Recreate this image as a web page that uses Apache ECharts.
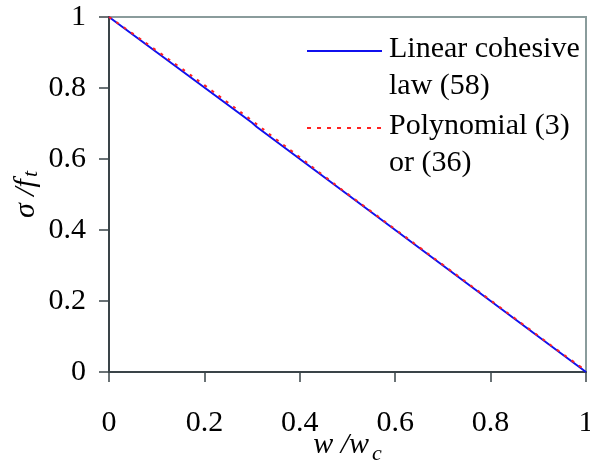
<!DOCTYPE html>
<html>
<head>
<meta charset="utf-8">
<script src="https://cdn.jsdelivr.net/npm/echarts@6/dist/echarts.min.js"></script>
<style>
  html, body { margin: 0; padding: 0; background: #fff; }
  #chart { width: 590px; height: 461px; }
</style>
</head>
<body>
<div id="chart"></div>
<script>
  // w/wc values
  const xLinear = [0, 0.3, 0.31, 1]
  const yLinear = [1, 0.702, 0.69, 0]

  const xPoly = [0, 0.05, 0.1, 0.15, 0.2, 0.25, 0.3, 0.35, 0.4, 0.45, 0.5, 0.55, 0.6, 0.65, 0.7, 0.75, 0.8, 0.85, 0.9, 0.95, 1]
  const yPoly = [1, 0.953, 0.905, 0.857, 0.808, 0.758, 0.708, 0.656, 0.605, 0.553, 0.502, 0.452, 0.402, 0.352, 0.302, 0.252, 0.202, 0.152, 0.102, 0.052, 0.004]

  const xTicks = ['0', '0.2', '0.4', '0.6', '0.8', '1']
  const yTicks = ['0', '0.2', '0.4', '0.6', '0.8', '1']

  const serif = '"Liberation Serif", "DejaVu Serif", serif'
  const chart = echarts.init(document.getElementById('chart'))

  const option = {
    animation: false,
    grid: {
      left: 109, right: 4, top: 17, bottom: 89,
      containLabel: false, outerBoundsMode: 'none',
      show: true, borderColor: '#8a9c9c', borderWidth: 2
    },
    xAxis: {
      type: 'value', min: 0, max: 1, interval: 0.2,
      name: '{i|w /w}{s|c}',
      nameLocation: 'middle', nameGap: 53, nameMoveOverlap: false,
      nameTextStyle: {
        rich: {
          i: { fontFamily: serif, fontStyle: 'italic', fontSize: 30, color: '#000' },
          s: { fontFamily: serif, fontStyle: 'italic', fontSize: 22, color: '#000', padding: [18, 0, 0, 3] }
        }
      },
      axisLine: { lineStyle: { color: '#3a4448', width: 2 } },
      axisTick: { inside: false, length: 10, lineStyle: { color: '#3a4448', width: 1.5 } },
      axisLabel: {
        fontFamily: serif, fontSize: 30, color: '#000', margin: 36,
        formatter: v => xTicks[Math.round(v / 0.2)]
      },
      splitLine: { show: false }
    },
    yAxis: {
      type: 'value', min: 0, max: 1, interval: 0.2,
      name: '{i|σ /f}{s|t}',
      nameLocation: 'middle', nameGap: 67, nameMoveOverlap: false,
      nameTextStyle: {
        rich: {
          i: { fontFamily: serif, fontStyle: 'italic', fontSize: 30, color: '#000' },
          s: { fontFamily: serif, fontStyle: 'italic', fontSize: 22, color: '#000', padding: [10, 0, 0, 2] }
        }
      },
      axisLine: { lineStyle: { color: '#3a4448', width: 2 } },
      axisTick: { inside: false, length: 10, lineStyle: { color: '#3a4448', width: 1.5 } },
      axisLabel: {
        fontFamily: serif, fontSize: 30, color: '#000', margin: 23,
        formatter: v => yTicks[Math.round(v / 0.2)]
      },
      splitLine: { show: false }
    },
    series: [
      {
        name: 'Linear cohesive law (58)',
        type: 'line',
        data: xLinear.map((x, i) => [x, yLinear[i]]),
        showSymbol: false,
        lineStyle: { color: '#1010ee', width: 2 },
        z: 2
      },
      {
        name: 'Polynomial (3) or (36)',
        type: 'line',
        smooth: true,
        data: xPoly.map((x, i) => [x, yPoly[i]]),
        showSymbol: false,
        lineStyle: { color: '#ff2020', width: 2, type: [3, 6] },
        z: 3
      }
    ],
    graphic: [
      { type: 'line', shape: { x1: 307, y1: 51, x2: 382, y2: 51 }, style: { stroke: '#1010ee', lineWidth: 2 } },
      { type: 'text', left: 389, top: 31, style: { text: 'Linear cohesive\nlaw (58)', font: '30px ' + serif, fill: '#000', lineHeight: 37 } },
      { type: 'line', shape: { x1: 307, y1: 128, x2: 382, y2: 128 }, style: { stroke: '#ff2020', lineWidth: 2, lineDash: [4, 6] } },
      { type: 'text', left: 389, top: 108, style: { text: 'Polynomial (3)\nor (36)', font: '30px ' + serif, fill: '#000', lineHeight: 37 } }
    ]
  }

  chart.setOption(option)
  window.addEventListener('resize', () => {
    chart.resize()
  })
</script>
</body>
</html>
